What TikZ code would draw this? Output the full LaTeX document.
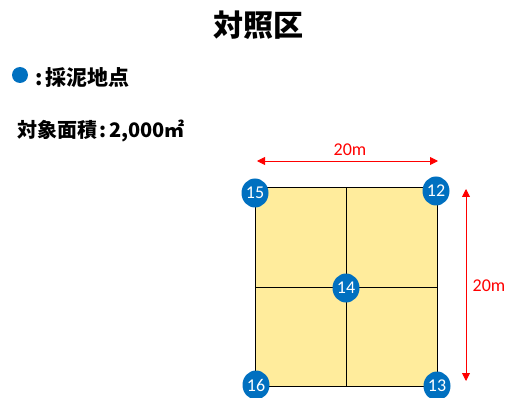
\documentclass[tikz,border=0pt]{standalone}
\usepackage{fontspec}
\setmainfont{Carlito}
\newfontfamily\cjk{Noto Sans CJK JP}
\usetikzlibrary{arrows.meta,shapes.geometric}
\definecolor{ptblue}{HTML}{0070C0}
\definecolor{plotfill}{HTML}{FFEC9C}
\definecolor{dimred}{HTML}{FF0000}
\begin{document}
\begin{tikzpicture}[x=1pt,y=-1pt,
  pt/.style={ellipse,fill=ptblue,text=white,minimum width=27pt,minimum height=29pt,inner sep=0pt,font=\fontsize{18}{18}\selectfont},
  dimarrow/.style={draw=dimred,line width=0.9pt,{Triangle[length=8pt,width=8pt]}-{Triangle[length=8pt,width=8pt]}},
  dimlabel/.style={text=dimred,font=\fontsize{18}{18}\selectfont,inner sep=0pt}]
\useasboundingbox (0,0) rectangle (506,398);
% title
\node[font=\cjk\bfseries\fontsize{30}{30}\selectfont,inner sep=0pt] (title) at (258,25) {対照区};
% legend
\node[circle,fill=ptblue,minimum size=16pt,inner sep=0pt] (legdot) at (20,75) {};
\node[anchor=west,font=\cjk\bfseries\fontsize{21}{21}\selectfont,inner sep=0pt] (legtxt) at (35,78) {:\hspace{3pt}採泥地点};
\node[anchor=west,font=\cjk\bfseries\fontsize{20}{20}\selectfont,inner sep=0pt] (area) at (17,131) {対象面積\hspace{2pt}:\hspace{3pt}2,000㎡};
% plot
\draw[fill=plotfill,line width=1pt] (255,188) rectangle (437,386);
\draw[line width=1pt] (346,188) -- (346,386);
\draw[line width=1pt] (255,287) -- (437,287);
% dimension arrows
\coordinate (hl) at (257,161);
\coordinate (hr) at (438,161);
\draw[dimarrow] (hl) -- (hr);
\node[dimlabel] (hlab) at (350,150) {20m};
\coordinate (vt) at (466,189);
\coordinate (vb) at (466,381);
\draw[dimarrow] (vt) -- (vb);
\node[dimlabel] (vlab) at (489,286) {20m};
% points
\node[pt] (p15) at (255,193) {15};
\node[pt] (p12) at (436,191) {12};
\node[pt] (p14) at (346,288) {14};
\node[pt] (p16) at (256,385) {16};
\node[pt] (p13) at (437,386) {13};
\end{tikzpicture}
\end{document}
